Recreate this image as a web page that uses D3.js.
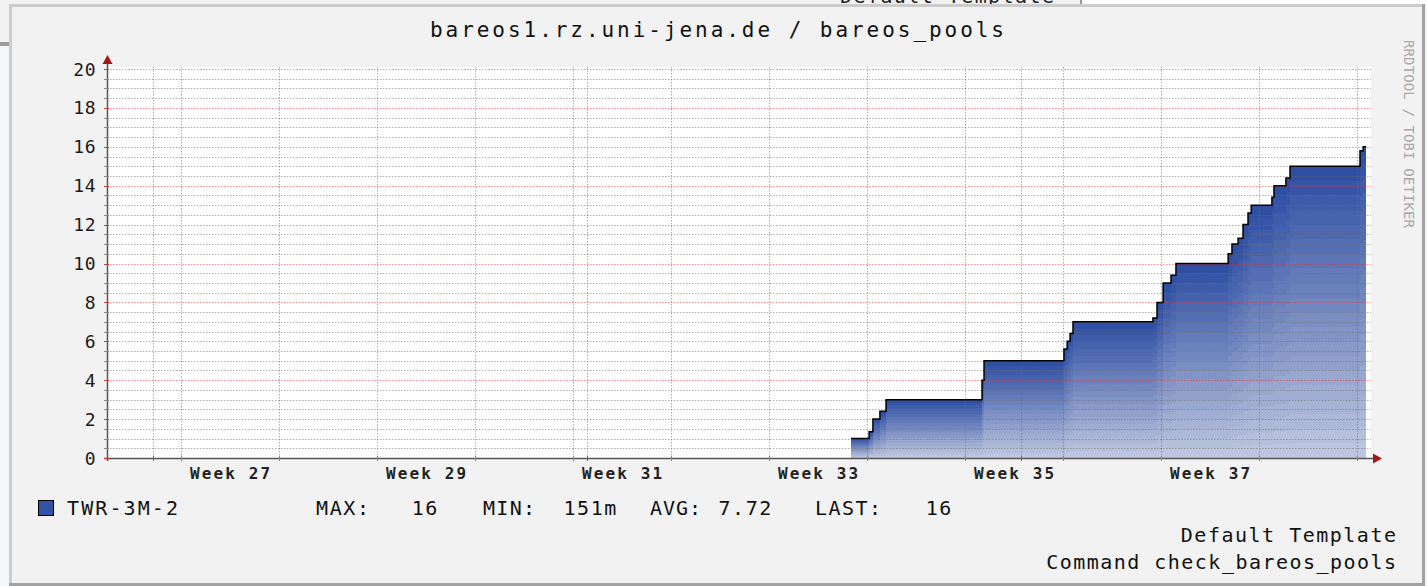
<!DOCTYPE html>
<html>
<head>
<meta charset="utf-8">
<script src="https://cdn.jsdelivr.net/npm/d3@7"></script>
<style>
  html, body { margin: 0; padding: 0; background: #f2f2f2; }
  svg { display: block; }
  text { font-family: "DejaVu Sans Mono", monospace; }
</style>
</head>
<body>
<svg id="chart" width="1427" height="586"></svg>
<script>
// ---------------- data ----------------
const title = "bareos1.rz.uni-jena.de / bareos_pools";
const seriesName = "TWR-3M-2";
// change points of the step series (UTC)
const times = [
  "2017-08-19T20:30", "2017-08-21T03:30", "2017-08-21T10:00", "2017-08-21T22:00",
  "2017-08-22T08:30", "2017-08-29T05:00", "2017-08-29T08:30", "2017-09-04T01:30",
  "2017-09-04T07:00", "2017-09-04T12:00", "2017-09-04T17:00", "2017-09-10T10:00",
  "2017-09-10T17:00", "2017-09-11T03:30", "2017-09-11T17:00", "2017-09-12T01:30",
  "2017-09-15T19:00", "2017-09-16T01:30", "2017-09-16T12:00", "2017-09-16T20:30",
  "2017-09-17T05:00", "2017-09-17T10:30", "2017-09-18T22:00", "2017-09-19T01:30",
  "2017-09-19T22:00", "2017-09-20T05:00", "2017-09-25T05:00", "2017-09-25T10:30",
  "2017-09-25T15:30"
];
const values = [
  1, 1.35, 2, 2.4,
  3, 4, 5, 5.6,
  6, 6.4, 7, 7.2,
  8, 9, 9.4, 10,
  10.5, 11, 11.3, 12,
  12.6, 13, 13.4, 14,
  14.4, 15, 15.8, 16,
  16
];
const timeDomain = ["2017-06-27T17:00", "2017-09-25T17:00"];
const yTicks = [0, 2, 4, 6, 8, 10, 12, 14, 16, 18, 20];
const weekLabels = ["Week 27", "Week 29", "Week 31", "Week 33", "Week 35", "Week 37"];
const weekLabelStarts = ["2017-07-03", "2017-07-17", "2017-07-31", "2017-08-14", "2017-08-28", "2017-09-11"];
const legendStats = [
  {label: "MAX:", value: "16"},
  {label: "MIN:", value: "151m"},
  {label: "AVG:", value: "7.72"},
  {label: "LAST:", value: "16"}
];
const footerLines = ["Default Template", "Command check_bareos_pools"];

// ---------------- setup ----------------
const parse = d3.utcParse("%Y-%m-%dT%H:%M");
const parseDay = d3.utcParse("%Y-%m-%d");
const data = times.map((t, i) => ({t: parse(t), v: values[i]}));

const svg = d3.select("#chart");
const W = 1427, H = 586;
const plot = {left: 107, right: 1367, top: 69, bottom: 458};

const x = d3.scaleUtc().domain(timeDomain.map(parse)).range([plot.left, plot.right]);
const y = d3.scaleLinear().domain([0, 20]).range([plot.bottom, plot.top]);

// ---------------- page surroundings ----------------
svg.append("rect").attr("x", 0).attr("y", 0).attr("width", W).attr("height", H).attr("fill", "#f2f2f2");
svg.append("rect").attr("x", 0).attr("y", 46).attr("width", 9).attr("height", H - 46).attr("fill", "#f5f6f8");
svg.append("rect").attr("x", 0).attr("y", 42).attr("width", 9).attr("height", 4).attr("fill", "#9a9a9a");
svg.append("rect").attr("x", 1083).attr("y", 0).attr("width", W - 1083).attr("height", 4).attr("fill", "#ffffff");
svg.append("rect").attr("x", 1080).attr("y", 0).attr("width", 2).attr("height", 5).attr("fill", "#9a9a9a");
// partially visible caption of the image above (cut off by the window, as in the reference)
svg.append("text").attr("x", 840).attr("y", 3).attr("font-size", 20).attr("fill", "#222")
  .attr("textLength", 214).attr("lengthAdjust", "spacing").text("Default Template");

// graph image frame
svg.append("rect").attr("x", 9).attr("y", 4).attr("width", 1416).attr("height", 582).attr("fill", "#f2f2f2");
svg.append("rect").attr("x", 9).attr("y", 4).attr("width", 1416).attr("height", 3).attr("fill", "#cccccc");
svg.append("rect").attr("x", 9).attr("y", 4).attr("width", 3).attr("height", 582).attr("fill", "#cccccc");
svg.append("rect").attr("x", 1422).attr("y", 4).attr("width", 3).attr("height", 582).attr("fill", "#a2a2a2");
svg.append("rect").attr("x", 9).attr("y", 583).attr("width", 1416).attr("height", 3).attr("fill", "#a2a2a2");

// canvas
svg.append("rect").attr("x", plot.left).attr("y", plot.top - 2)
  .attr("width", plot.right + 4 - plot.left).attr("height", plot.bottom - plot.top + 2).attr("fill", "#ffffff");

// ---------------- gradient area ----------------
const g = svg.append("g");
const steps = 20;
const interp = d3.interpolateRgb("#2F4FA3", "#BDC6DE");
for (let i = steps; i >= 1; i--) {
  const f = (steps - i) / (steps - 1);
  const area = d3.area().curve(d3.curveStepAfter)
    .x(d => x(d.t)).y0(y(0)).y1(d => y(d.v * i / steps));
  g.append("path").datum(data).attr("d", area).attr("fill", interp(f)).attr("shape-rendering", "crispEdges");
}

// ---------------- grid (drawn on top, semi-transparent) ----------------
const grid = svg.append("g");
const gridRight = plot.right + 4;
const minorColor = "rgba(110,110,110,0.55)";
const majorColor = "rgba(255,40,40,0.55)";
const halfSteps = d3.range(1, 41).map(k => k * 0.5);
halfSteps.forEach(v => {
  const major = (v % 2 === 0);
  grid.append("line")
    .attr("x1", plot.left).attr("x2", gridRight)
    .attr("y1", Math.round(y(v)) + 0.5).attr("y2", Math.round(y(v)) + 0.5)
    .attr("stroke", major ? majorColor : minorColor)
    .attr("stroke-width", 1).attr("stroke-dasharray", "1.5,1.5");
});
const mondays = d3.utcMonday.range(x.domain()[0], x.domain()[1]);
mondays.forEach(d => {
  const xx = Math.round(x(d)) + 0.5;
  grid.append("line").attr("x1", xx).attr("x2", xx).attr("y1", plot.top - 2).attr("y2", plot.bottom)
    .attr("stroke", minorColor).attr("stroke-dasharray", "1.5,1.5");
});
const months = d3.utcMonth.range(x.domain()[0], x.domain()[1]);
months.forEach(d => {
  const xx = Math.round(x(d)) + 0.5;
  grid.append("line").attr("x1", xx).attr("x2", xx).attr("y1", plot.top - 2).attr("y2", plot.bottom)
    .attr("stroke", majorColor).attr("stroke-dasharray", "1.5,1.5");
});

// data line
const line = d3.line().curve(d3.curveStepAfter).x(d => x(d.t)).y(d => y(d.v));
svg.append("path").datum(data).attr("d", line).attr("fill", "none")
  .attr("stroke", "#000").attr("stroke-width", 1.5);

// ---------------- axes ----------------
const axisColor = "#555";
svg.append("line").attr("x1", plot.left - 3).attr("x2", plot.right + 6)
  .attr("y1", plot.bottom + 0.5).attr("y2", plot.bottom + 0.5).attr("stroke", axisColor).attr("stroke-width", 1.5);
svg.append("line").attr("x1", plot.left + 0.5).attr("x2", plot.left + 0.5)
  .attr("y1", plot.bottom + 3).attr("y2", plot.top - 6).attr("stroke", axisColor).attr("stroke-width", 1.5);
const arrowColor = "#a01818";
svg.append("path").attr("fill", arrowColor)
  .attr("d", `M${plot.left + 0.5},${plot.top - 14} L${plot.left - 4.5},${plot.top - 5} L${plot.left + 5.5},${plot.top - 5} Z`);
svg.append("path").attr("fill", arrowColor)
  .attr("d", `M${plot.right + 15},${plot.bottom + 0.5} L${plot.right + 6},${plot.bottom - 4.5} L${plot.right + 6},${plot.bottom + 5.5} Z`);

// y ticks & labels
halfSteps.concat([0]).forEach(v => {
  svg.append("line").attr("x1", plot.left - 3).attr("x2", plot.left + 2)
    .attr("y1", Math.round(y(v)) + 0.5).attr("y2", Math.round(y(v)) + 0.5)
    .attr("stroke", v % 2 === 0 ? "#c04040" : "#888").attr("stroke-width", 1);
});
svg.append("g").selectAll("text").data(yTicks).join("text")
  .attr("x", 96).attr("y", d => y(d) + 6.5)
  .attr("text-anchor", "end").attr("font-size", 18).attr("fill", "#1a1a1a")
  .attr("letter-spacing", 0.5)
  .text(d => d);

// x ticks
mondays.forEach(d => {
  const xx = Math.round(x(d)) + 0.5;
  svg.append("line").attr("x1", xx).attr("x2", xx).attr("y1", plot.bottom - 2).attr("y2", plot.bottom + 3)
    .attr("stroke", "#888");
});
months.forEach(d => {
  const xx = Math.round(x(d)) + 0.5;
  svg.append("line").attr("x1", xx).attr("x2", xx).attr("y1", plot.bottom - 2).attr("y2", plot.bottom + 3)
    .attr("stroke", "#c04040");
});
svg.append("g").selectAll("text").data(weekLabels).join("text")
  .attr("x", (d, i) => x(d3.utcHour.offset(parseDay(weekLabelStarts[i]), 84)))
  .attr("y", 479)
  .attr("text-anchor", "middle").attr("font-size", 16).attr("font-weight", "bold").attr("fill", "#222")
  .attr("textLength", 80).attr("lengthAdjust", "spacing")
  .text(d => d);

// ---------------- title ----------------
svg.append("text").attr("x", 717).attr("y", 37).attr("text-anchor", "middle")
  .attr("font-size", 21).attr("fill", "#111")
  .attr("textLength", 574).attr("lengthAdjust", "spacing").text(title);

// watermark
svg.append("text").attr("transform", "translate(1404,40) rotate(90)")
  .attr("font-size", 14).attr("fill", "#a8a8a8")
  .attr("textLength", 188).attr("lengthAdjust", "spacing").text("RRDTOOL / TOBI OETIKER");

// ---------------- legend ----------------
svg.append("rect").attr("x", 38.5).attr("y", 500.5).attr("width", 15).attr("height", 15)
  .attr("fill", "#3152A5").attr("stroke", "#000").attr("stroke-width", 1);
svg.append("text").attr("x", 67).attr("y", 515).attr("font-size", 20).attr("fill", "#111")
  .attr("textLength", 111).attr("lengthAdjust", "spacing").text(seriesName);

const statLabelX = [316, 483, 650, 815];
const statLabelW = [53, 52, 51, 66];
const statValueRight = [439, 618, 773, 953];
legendStats.forEach((s, i) => {
  svg.append("text").attr("x", statLabelX[i]).attr("y", 515).attr("font-size", 20).attr("fill", "#111")
    .attr("textLength", statLabelW[i]).attr("lengthAdjust", "spacing").text(s.label);
  svg.append("text").attr("x", statValueRight[i]).attr("y", 515).attr("font-size", 20).attr("fill", "#111")
    .attr("text-anchor", "end").attr("letter-spacing", 1.6).text(s.value);
});

// footer
footerLines.forEach((t, i) => {
  svg.append("text").attr("x", 1396).attr("y", 542 + i * 27).attr("text-anchor", "end")
    .attr("font-size", 20).attr("fill", "#111")
    .attr("textLength", t.length * 13.45).attr("lengthAdjust", "spacing").text(t);
});
</script>
</body>
</html>
